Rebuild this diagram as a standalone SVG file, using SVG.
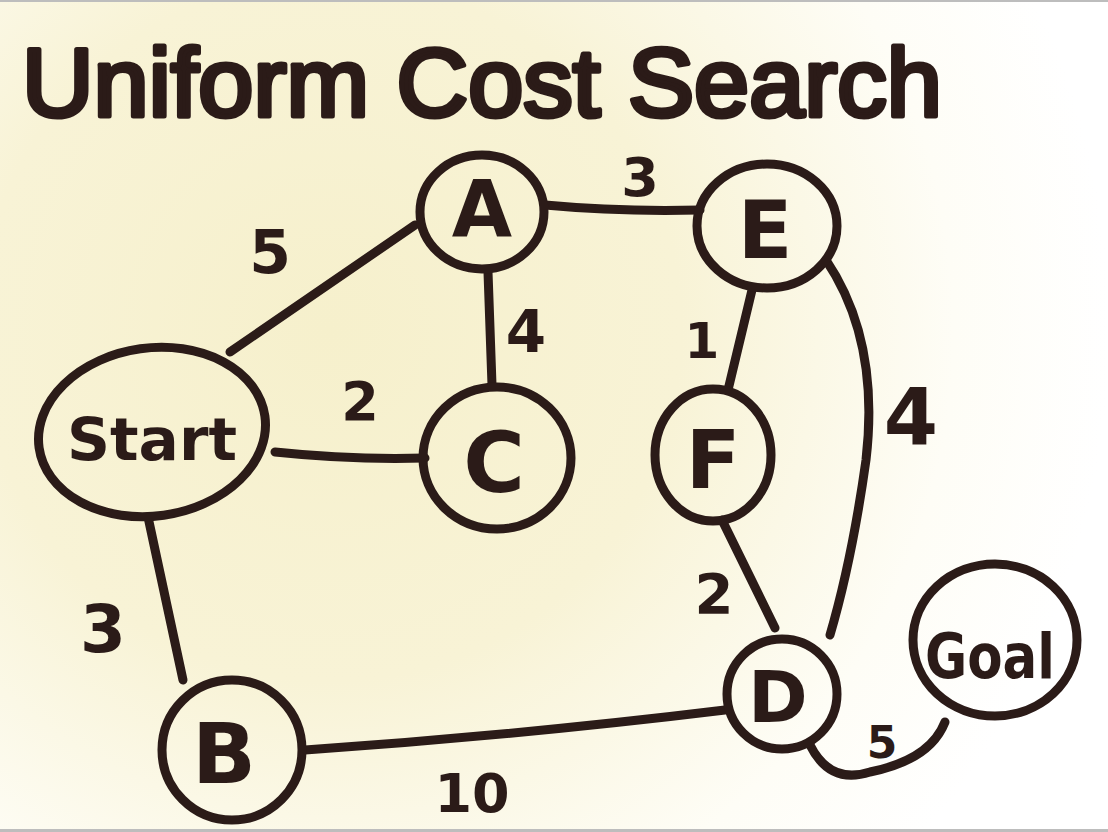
<svg xmlns="http://www.w3.org/2000/svg" width="1108" height="832" viewBox="0 0 1108 832">
<defs>
<radialGradient id="bg" cx="330" cy="330" r="780" gradientUnits="userSpaceOnUse">
<stop offset="0" stop-color="#f6f0cc"/>
<stop offset="0.45" stop-color="#f8f3d6"/>
<stop offset="0.8" stop-color="#fefdf6"/>
<stop offset="1" stop-color="#ffffff"/>
</radialGradient>
<style>
.node{fill:none;stroke:#2b1b18;stroke-width:9}
.edge{fill:none;stroke:#2b1b18;stroke-width:9;stroke-linecap:round;stroke-linejoin:round}
.lbl{font-family:"DejaVu Sans","Liberation Sans",sans-serif;font-weight:bold;fill:#2b1b18;text-anchor:middle}
.num{font-family:"DejaVu Sans","Liberation Sans",sans-serif;font-weight:bold;fill:#2b1b18;text-anchor:middle}
.title{font-family:"Liberation Sans","DejaVu Sans",sans-serif;fill:#2b1b18;stroke:#2b1b18;stroke-width:5;stroke-linejoin:round}
</style>
</defs>
<rect width="1108" height="832" fill="url(#bg)"/>
<rect x="0" y="0" width="1108" height="2" fill="#bdbdbd"/>
<rect x="0" y="829" width="1108" height="3" fill="#bdbdbd"/>

<text class="title" x="22" y="116" font-size="96" textLength="920" lengthAdjust="spacingAndGlyphs">Uniform Cost Search</text>

<g id="connectors">
<path class="edge" d="M230 352 L415 225"/>
<path class="edge" d="M545 205 Q620 212 700 210"/>
<path class="edge" d="M488 272 L492 385"/>
<path class="edge" d="M275 452 Q350 460 425 458"/>
<path class="edge" d="M752 290 L728 390"/>
<path class="edge" d="M826 260 Q880 340 866 460 Q852 560 830 635"/>
<path class="edge" d="M722 520 L775 628"/>
<path class="edge" d="M148 517 L183 680"/>
<path class="edge" d="M305 750 Q520 735 725 710"/>
<path class="edge" d="M810 745 Q830 785 870 772 Q930 760 945 722"/>
<text class="num" x="270" y="273" font-size="60">5</text>
<text class="num" x="640" y="196" font-size="54">3</text>
<text class="num" x="526" y="352" font-size="58">4</text>
<text class="num" x="360" y="420" font-size="54">2</text>
<text class="num" x="702" y="358" font-size="50">1</text>
<text class="num" x="911" y="444" font-size="78">4</text>
<text class="num" x="714" y="613" font-size="56">2</text>
<text class="num" x="103" y="652" font-size="66">3</text>
<text class="num" x="472" y="812" font-size="54">10</text>
<text class="num" x="882" y="758" font-size="44">5</text>
</g>

<g id="node-A"><ellipse class="node" cx="482" cy="212" rx="62" ry="57"/><text class="lbl" x="482" y="236" font-size="78">A</text></g>
<g id="node-E"><ellipse class="node" cx="767" cy="226" rx="70" ry="62"/><text class="lbl" x="765" y="258" font-size="80">E</text></g>
<g id="node-Start"><ellipse class="node" cx="152" cy="432" rx="114" ry="84" transform="rotate(-8 152 432)"/><text class="lbl" x="152" y="460" font-size="58" textLength="170" lengthAdjust="spacingAndGlyphs">Start</text></g>
<g id="node-C"><ellipse class="node" cx="497" cy="458" rx="74" ry="71"/><text class="lbl" x="494" y="492" font-size="84">C</text></g>
<g id="node-F"><ellipse class="node" cx="713" cy="455" rx="58" ry="66"/><text class="lbl" x="713" y="488" font-size="80">F</text></g>
<g id="node-B"><ellipse class="node" cx="232" cy="750" rx="70" ry="70"/><text class="lbl" x="224" y="783" font-size="84">B</text></g>
<g id="node-D"><ellipse class="node" cx="782" cy="694" rx="55" ry="55"/><text class="lbl" x="778" y="722" font-size="72">D</text></g>
<g id="node-Goal"><ellipse class="node" cx="995" cy="640" rx="82" ry="76"/><text class="lbl" x="990" y="678" font-size="62" textLength="130" lengthAdjust="spacingAndGlyphs">Goal</text></g>
</svg>
